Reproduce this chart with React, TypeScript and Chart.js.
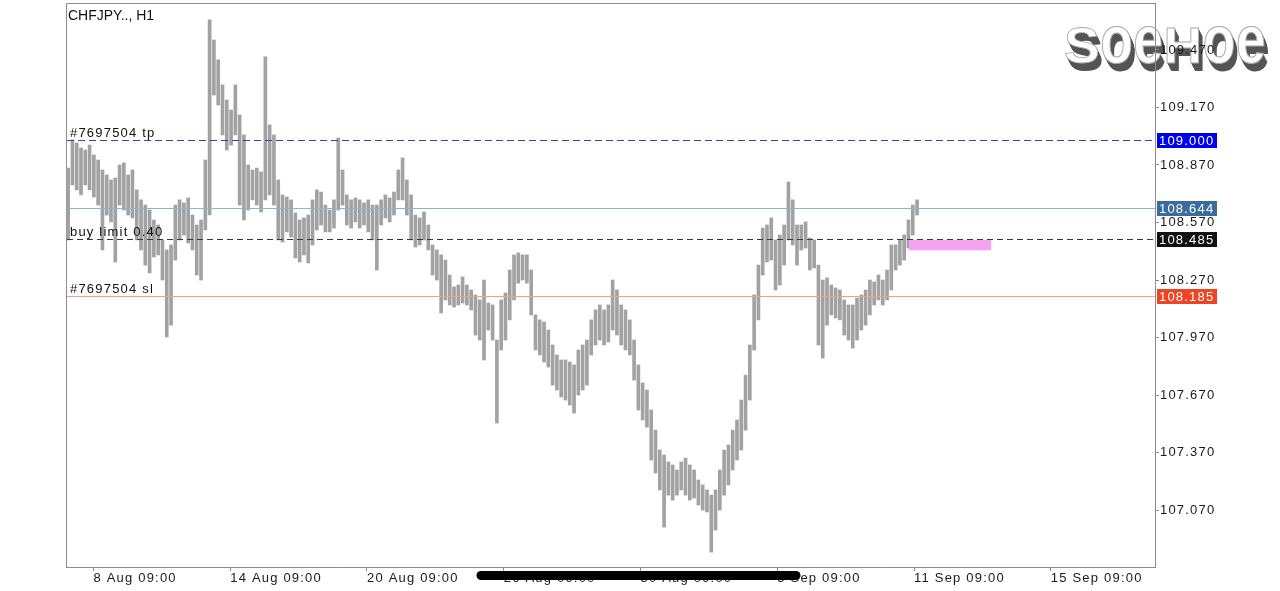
import React, { useEffect, useRef } from 'react';
import { Chart, registerables } from 'chart.js';

Chart.register(...registerables);

const TITLE = 'CHFJPY.., H1';
const WATERMARK = 'SoeHoe';

// 3-hour slots of CHFJPY H1 price action: bar highs and lows
const HIGHS = [
  108.854, 109.001, 108.985, 108.959, 108.948, 108.974, 108.922, 108.896, 108.844, 108.818,
  108.792, 108.802, 108.870, 108.881, 108.818, 108.844, 108.740, 108.688, 108.661, 108.635,
  108.583, 108.557, 108.479, 108.427, 108.453, 108.661, 108.688, 108.672, 108.698, 108.609,
  108.557, 108.583, 108.896, 109.627, 109.522, 109.418, 109.288, 109.209, 109.157, 109.288,
  109.131, 109.027, 108.870, 108.844, 108.854, 108.834, 109.434, 109.079, 109.027, 108.792,
  108.714, 108.703, 108.688, 108.620, 108.583, 108.594, 108.609, 108.688, 108.740, 108.729,
  108.661, 108.635, 108.688, 109.011, 108.844, 108.714, 108.688, 108.698, 108.688, 108.672,
  108.688, 108.661, 108.661, 108.688, 108.714, 108.698, 108.729, 108.844, 108.907, 108.792,
  108.714, 108.609, 108.594, 108.625, 108.557, 108.453, 108.427, 108.401, 108.374, 108.296,
  108.234, 108.244, 108.286, 108.244, 108.218, 108.192, 108.166, 108.270, 108.150, 108.140,
  107.957, 108.166, 108.202, 108.322, 108.401, 108.411, 108.401, 108.401, 108.322, 108.088,
  108.062, 108.051, 108.009, 107.931, 107.879, 107.853, 107.853, 107.842, 107.827, 107.905,
  107.931, 107.957, 108.062, 108.114, 108.140, 108.114, 108.140, 108.270, 108.218, 108.140,
  108.114, 108.062, 107.957, 107.827, 107.733, 107.696, 107.592, 107.487, 107.383, 107.357,
  107.321, 107.305, 107.279, 107.321, 107.341, 107.305, 107.279, 107.227, 107.201, 107.175,
  107.148, 107.175, 107.279, 107.383, 107.409, 107.487, 107.540, 107.644, 107.774, 107.931,
  108.192, 108.348, 108.541, 108.557, 108.594, 108.479, 108.505, 108.557, 108.781, 108.688,
  108.557, 108.557, 108.573, 108.489, 108.479, 108.348, 108.270, 108.281, 108.244, 108.229,
  108.218, 108.166, 108.140, 108.140, 108.176, 108.192, 108.218, 108.270, 108.260, 108.296,
  108.270, 108.322, 108.453, 108.453, 108.479, 108.505, 108.583, 108.661, 108.688,
];

const LOWS = [
  108.479, 108.766, 108.740, 108.714, 108.766, 108.740, 108.703, 108.661, 108.427, 108.609,
  108.573, 108.364, 108.661, 108.635, 108.609, 108.594, 108.479, 108.427, 108.348, 108.307,
  108.390, 108.401, 108.270, 107.973, 108.035, 108.374, 108.479, 108.505, 108.463, 108.427,
  108.296, 108.270, 108.531, 108.609, 109.235, 109.183, 109.027, 108.948, 108.974, 109.027,
  108.661, 108.583, 108.635, 108.688, 108.661, 108.625, 108.688, 108.714, 108.661, 108.479,
  108.468, 108.521, 108.494, 108.385, 108.364, 108.401, 108.359, 108.453, 108.531, 108.557,
  108.521, 108.521, 108.541, 108.635, 108.661, 108.557, 108.541, 108.573, 108.541, 108.557,
  108.521, 108.479, 108.322, 108.557, 108.594, 108.573, 108.609, 108.688, 108.688, 108.609,
  108.479, 108.442, 108.453, 108.479, 108.427, 108.296, 108.270, 108.098, 108.166, 108.140,
  108.129, 108.140, 108.150, 108.140, 108.114, 107.983, 107.957, 107.853, 108.009, 107.957,
  107.524, 107.905, 107.957, 108.062, 108.166, 108.254, 108.270, 108.254, 108.088, 107.905,
  107.879, 107.842, 107.816, 107.722, 107.696, 107.660, 107.644, 107.618, 107.576, 107.670,
  107.696, 107.722, 107.879, 107.931, 107.957, 107.931, 107.947, 108.009, 107.983, 107.931,
  107.905, 107.879, 107.748, 107.592, 107.540, 107.503, 107.331, 107.263, 107.175, 106.981,
  107.148, 107.122, 107.148, 107.175, 107.148, 107.122, 107.133, 107.096, 107.070, 107.060,
  106.851, 106.966, 107.070, 107.148, 107.201, 107.279, 107.331, 107.383, 107.487, 107.644,
  107.905, 108.062, 108.296, 108.364, 108.374, 108.218, 108.244, 108.348, 108.479, 108.453,
  108.348, 108.427, 108.437, 108.322, 108.333, 107.931, 107.863, 108.035, 108.088, 108.072,
  108.062, 107.983, 107.957, 107.915, 107.957, 108.009, 108.035, 108.088, 108.140, 108.166,
  108.140, 108.166, 108.218, 108.322, 108.348, 108.374, 108.437, 108.505, 108.609,
];

const TIME_SLOTS = 254;
const TIME_TICK_POS = [6.4, 38.3, 70.2, 102.1, 134.0, 165.9, 197.8, 229.7];
const TIME_TICK_LABELS = [
  '8 Aug 09:00', '14 Aug 09:00', '20 Aug 09:00', '26 Aug 09:00',
  '30 Aug 09:00', '5 Sep 09:00', '11 Sep 09:00', '15 Sep 09:00',
];

const PRICE_MIN = 106.773;
const PRICE_MAX = 109.715;
const PRICE_TICKS = [107.07, 107.37, 107.67, 107.97, 108.27, 108.57, 108.87, 109.17, 109.47];

// order levels: take profit, current bid, pending buy limit, stop loss
const LEVEL_PRICES = [109.0, 108.644, 108.485, 108.185];
const LEVEL_TEXTS = ['#7697504 tp', '', 'buy limit 0.40', '#7697504 sl'];
const PENDING_ZONE_X = [196.6, 215.8];
const PENDING_ZONE_Y = [108.485, 108.425];

const LEVEL_STYLES = [
  { line: '#4a3aa8', dash: [7, 4], box: '#0000ee' },
  { line: '#93b2cf', dash: [], box: '#3a6c9e' },
  { line: '#3a3a3a', dash: [6, 4], box: '#111111' },
  { line: '#f2a091', dash: [], box: '#ee4423' },
];

const FONT = '"Liberation Sans", Arial, sans-serif';
const FRAME = '#8c8c8c';

function drawWatermark(ctx: CanvasRenderingContext2D) {
  ctx.save();
  ctx.font = `bold 50px ${FONT}`;
  (ctx as any).letterSpacing = '0px';
  ctx.textBaseline = 'alphabetic';
  const baseY = 63;
  const sx = 1.07;
  let x = 1064;
  const glyph = (ch: string, gx: number, gy: number, sy: number, stroke: boolean) => {
    ctx.save();
    ctx.translate(gx, gy);
    ctx.scale(sx, sy);
    if (stroke) ctx.strokeText(ch, 0, 0);
    else ctx.fillText(ch, 0, 0);
    ctx.restore();
  };
  for (const ch of WATERMARK) {
    const w = ctx.measureText(ch).width * sx;
    const lower = ch !== ch.toUpperCase();
    const sy = lower ? 0.716 / 0.519 : 1;
    ctx.fillStyle = '#555555';
    for (let k = 8; k >= 1; k--) glyph(ch, x + k * 0.5, baseY + k * 1.0, sy, false);
    ctx.fillStyle = '#ffffff';
    glyph(ch, x, baseY, sy, false);
    ctx.strokeStyle = '#a8a8a8';
    ctx.lineWidth = 0.8;
    glyph(ch, x, baseY, sy, true);
    x += w + 0.5;
  }
  ctx.restore();
}

const overlay = {
  id: 'mtOverlay',
  beforeDraw(chart: any) {
    const ctx = chart.ctx as CanvasRenderingContext2D;
    drawWatermark(ctx);
    (ctx as any).letterSpacing = '1.2px';
  },
  beforeDatasetsDraw(chart: any) {
    const ctx = chart.ctx as CanvasRenderingContext2D;
    const a = chart.chartArea;
    ctx.save();
    ctx.strokeStyle = FRAME;
    ctx.lineWidth = 1;
    ctx.beginPath();
    ctx.moveTo(a.left + 0.5, a.bottom);
    ctx.lineTo(a.left + 0.5, a.top + 0.5);
    ctx.lineTo(a.right, a.top + 0.5);
    ctx.stroke();
    ctx.restore();
  },
  afterDatasetsDraw(chart: any) {
    const ctx = chart.ctx as CanvasRenderingContext2D;
    const a = chart.chartArea;
    const xs = chart.scales.x;
    const ys = chart.scales.y;
    ctx.save();
    ctx.fillStyle = '#f5a3ef';
    const zx0 = xs.getPixelForValue(PENDING_ZONE_X[0]);
    const zx1 = xs.getPixelForValue(PENDING_ZONE_X[1]);
    const zy0 = ys.getPixelForValue(PENDING_ZONE_Y[0]);
    const zy1 = ys.getPixelForValue(PENDING_ZONE_Y[1]);
    ctx.fillRect(zx0, zy0 + 1, zx1 - zx0, zy1 - zy0 - 1);
    LEVEL_PRICES.forEach((p, i) => {
      const st = LEVEL_STYLES[i];
      const py = Math.round(ys.getPixelForValue(p)) + 0.5;
      ctx.strokeStyle = st.line;
      ctx.lineWidth = 1;
      ctx.setLineDash(st.dash);
      ctx.beginPath();
      ctx.moveTo(a.left + 1, py);
      ctx.lineTo(a.right, py);
      ctx.stroke();
    });
    ctx.setLineDash([]);
    ctx.font = `13px ${FONT}`;
    (ctx as any).letterSpacing = '1.2px';
    ctx.fillStyle = '#111111';
    ctx.textBaseline = 'alphabetic';
    ctx.textAlign = 'left';
    LEVEL_PRICES.forEach((p, i) => {
      if (!LEVEL_TEXTS[i]) return;
      const py = Math.round(ys.getPixelForValue(p));
      ctx.fillText(LEVEL_TEXTS[i], a.left + 4, py - 3);
    });
    ctx.font = `14px ${FONT}`;
    (ctx as any).letterSpacing = '0px';
    ctx.fillText(TITLE, a.left + 2, 19.5);
    ctx.restore();
  },
  afterDraw(chart: any) {
    const ctx = chart.ctx as CanvasRenderingContext2D;
    const a = chart.chartArea;
    const ys = chart.scales.y;
    ctx.save();
    ctx.font = `13px ${FONT}`;
    (ctx as any).letterSpacing = '1.2px';
    ctx.textBaseline = 'middle';
    ctx.textAlign = 'left';
    LEVEL_PRICES.forEach((p, i) => {
      const py = Math.round(ys.getPixelForValue(p)) + 0.5;
      ctx.fillStyle = LEVEL_STYLES[i].box;
      ctx.fillRect(a.right + 2, py - 7.5, 60, 15);
      ctx.fillStyle = '#ffffff';
      ctx.fillText(p.toFixed(3), a.right + 4, py + 0.5);
    });
    ctx.strokeStyle = '#000000';
    ctx.lineWidth = 9;
    ctx.lineCap = 'round';
    ctx.beginPath();
    ctx.moveTo(481, 575.5);
    ctx.lineTo(796, 575.5);
    ctx.stroke();
    ctx.restore();
    (ctx as any).letterSpacing = '0px';
  },
};

export default function App() {
  const ref = useRef<HTMLCanvasElement>(null);
  useEffect(() => {
    const canvas = ref.current!;
    const data = HIGHS.map((h, i) => ({ x: i + 0.5, y: [LOWS[i], h] }));
    const chart = new Chart(canvas, {
      type: 'bar',
      data: {
        datasets: [
          {
            data: data as any,
            backgroundColor: '#a2a2a2',
            borderWidth: 0,
            barThickness: 3,
          },
        ],
      },
      options: {
        responsive: false,
        animation: false,
        events: [],
        layout: { padding: { left: 66, top: 3, right: 0, bottom: 0 } },
        plugins: { legend: { display: false }, tooltip: { enabled: false } },
        scales: {
          x: {
            type: 'linear',
            min: 0,
            max: TIME_SLOTS,
            offset: false,
            grid: { offset: false, drawOnChartArea: false, drawTicks: true, tickLength: 4, color: FRAME },
            border: { display: true, color: FRAME },
            ticks: {
              autoSkip: false,
              maxRotation: 0,
              align: 'start',
              padding: 0,
              color: '#1a1a1a',
              font: { family: FONT, size: 13 },
              callback: (_v: any, i: number) => TIME_TICK_LABELS[i] ?? '',
            },
            afterBuildTicks: (s: any) => {
              s.ticks = TIME_TICK_POS.map((v) => ({ value: v }));
            },
            afterFit: (s: any) => {
              s.height = 24;
              s.paddingLeft = 0;
              s.paddingRight = 0;
            },
          } as any,
          y: {
            type: 'linear',
            position: 'right',
            min: PRICE_MIN,
            max: PRICE_MAX,
            grid: { drawOnChartArea: false, drawTicks: true, tickLength: 4, color: FRAME },
            border: { display: true, color: FRAME },
            ticks: {
              padding: 1,
              color: '#1a1a1a',
              font: { family: FONT, size: 13 },
              callback: (v: any) => Number(v).toFixed(3),
            },
            afterBuildTicks: (s: any) => {
              s.ticks = PRICE_TICKS.map((v) => ({ value: v }));
            },
            afterFit: (s: any) => {
              s.width = 125;
              s.paddingTop = 0;
              s.paddingBottom = 0;
            },
          } as any,
        },
      },
      plugins: [overlay as any],
    });
    return () => chart.destroy();
  }, []);
  return (
    <div style={{ position: 'fixed', left: 0, top: 0, width: 1280, height: 591, background: '#ffffff' }}>
      <canvas ref={ref} width={1280} height={591} style={{ display: 'block' }} />
    </div>
  );
}
